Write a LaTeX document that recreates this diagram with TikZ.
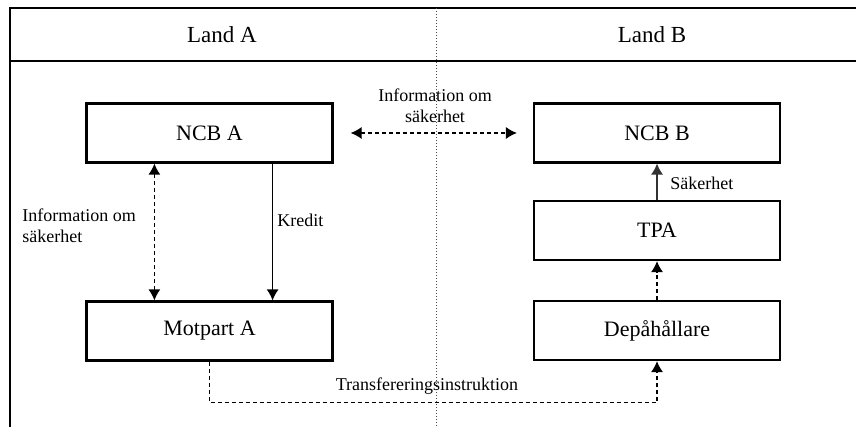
\documentclass[tikz,border=0pt]{standalone}
\usepackage{fontspec}
\setmainfont{Liberation Serif}
\usepackage{tikz}
\usetikzlibrary{arrows.meta}
\usetikzlibrary{positioning}

\tikzset{
  box/.style={draw, line width=1.1pt, minimum width=123pt, minimum height=29.5pt, font=\fontsize{11}{13}\selectfont},
  lbl/.style={font=\fontsize{9}{10.5}\selectfont, inner sep=1pt},
  info/.style={dash pattern=on 2pt off 1.5pt, line width=0.6pt},
  tip/.style={-{Latex[length=5.5pt,width=6pt]}},
  tips/.style={{Latex[length=5.5pt,width=6pt]}-{Latex[length=5.5pt,width=6pt]}},
  frame/.style={line width=1.1pt}
}

\begin{document}
\begin{tikzpicture}[x=0.5pt, y=-0.5pt]
  \useasboundingbox (0,0) rectangle (856,427);
  % frame and header
  \coordinate (tl) at (10,8);
  \coordinate (tr) at (856,8);
  \coordinate (hl) at (10,61);
  \coordinate (hr) at (856,61);
  \coordinate (bl) at (10,427);
  \draw[frame] (tr) -- (tl) -- (bl);
  \draw[frame] (hl) -- (hr);
  \coordinate (divtop) at (436,8);
  \coordinate (divbot) at (436,427);
  \draw[densely dotted, line width=0.5pt, black!70] (divtop) -- (divbot);
  \node[font=\fontsize{11.5}{13}\selectfont] (landa) at (222,35) {Land A};
  \node[font=\fontsize{11.5}{13}\selectfont] (landb) at (652,35) {Land B};

  % boxes
  \node[box] (ncba) at (209.5,133) {NCB A};
  \node[box] (motpa) at (209.5,331) {Motpart A};
  \node[box] (ncbb) at (657,133) {NCB B};
  \node[box] (tpa) at (657,230.5) {TPA};
  \node[box] (depa) at (657,330.5) {Depåhållare};

  % connectors
  \draw[info, tips] ([xshift=8.5pt]ncba.east) -- ([xshift=-8pt]ncbb.west);
  \node[lbl, align=center] (infoab) at (435,106) {Information om\\säkerhet};

  \draw[info, tips] ([xshift=34.5pt]ncba.south west) -- ([xshift=34.5pt]motpa.north west);
  \node[lbl, align=left, anchor=west] (infoa) at (20,226) {Information om\\säkerhet};

  \draw[tip, line width=0.6pt] ([xshift=-30.5pt]ncba.south east) -- ([xshift=-30.5pt]motpa.north east);
  \node[lbl, anchor=west] (kredit) at (275,220) {Kredit};

  \draw[tip, line width=0.6pt, black!80] (tpa.north) -- (ncbb.south);
  \node[lbl, anchor=west] (sak) at (668,183) {Säkerhet};

  \draw[info, tip] (depa.north) -- (tpa.south);

  \draw[info, tip] (motpa.south) -- ++(0,-20.5pt) -| (depa.south);
  \node[lbl] (transf) at (427,386) {Transfereringsinstruktion};
\end{tikzpicture}
\end{document}
